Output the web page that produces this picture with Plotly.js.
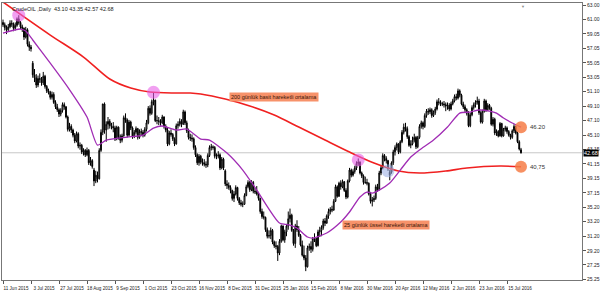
<!DOCTYPE html>
<html><head><meta charset="utf-8">
<script src="https://cdn.plot.ly/plotly-3.0.1.min.js"></script>
<style>html,body{margin:0;padding:0;background:#fff;}#chart{width:600px;height:292px;}</style>
</head><body><div id="chart"></div>
<script>
const symbolName = "CrudeOIL";
const periodName = "Daily";

const openP = [
60.6,60.3,59.9,59.6,60.0,60.5,60.4,59.8,60.2,61.1,
60.6,60.0,59.8,58.6,59.6,57.6,57.2,55.0,53.4,53.0,
52.0,52.9,52.8,52.3,53.2,51.8,51.2,51.0,50.3,50.7,
49.6,49.0,48.6,48.0,48.5,49.3,49.0,47.6,45.9,46.3,
45.8,45.1,44.3,45.3,43.6,43.7,42.8,43.0,42.4,43.0,
41.3,41.6,40.3,38.8,39.6,39.1,43.0,45.5,49.4,45.8,
46.6,47.0,46.4,46.3,46.1,44.6,46.2,44.9,44.4,45.0,
47.5,47.2,45.1,46.9,46.1,44.9,45.5,46.0,44.8,45.6,
45.5,45.1,45.9,46.8,48.8,48.1,49.7,49.9,47.1,47.1,
47.0,46.8,47.6,46.3,45.8,43.9,45.4,45.2,44.6,43.9,
46.4,46.6,47.0,46.6,48.3,46.8,45.7,44.8,44.7,44.6,
43.4,42.4,41.3,42.2,41.4,41.3,41.1,41.0,42.3,43.4,
43.5,43.4,42.2,42.2,42.4,40.6,41.8,40.2,38.4,38.2,
37.9,37.5,36.4,37.0,37.9,36.4,35.8,35.6,35.6,36.8,
38.0,38.6,37.6,38.6,37.4,37.3,37.0,36.4,34.6,33.9,
33.8,32.1,31.2,31.3,32.0,30.4,29.9,29.8,28.9,30.5,
32.6,30.7,31.8,32.6,33.6,34.1,32.0,30.2,32.6,32.1,
31.3,30.0,28.6,28.2,27.0,29.6,29.8,29.4,30.9,30.9,
29.9,31.8,32.0,32.4,33.3,33.0,34.0,34.6,34.9,34.8,
36.0,38.0,36.7,38.5,38.0,38.7,37.5,36.6,38.8,40.3,
39.6,40.1,40.6,41.2,41.4,39.9,39.5,38.6,38.6,38.5,
37.0,36.0,36.2,36.4,38.0,37.6,39.9,40.6,42.3,41.9,
41.6,39.6,40.0,41.3,42.8,43.4,43.9,42.8,44.2,45.5,
46.2,46.0,44.9,43.7,43.9,44.4,44.8,43.5,44.8,46.3,
46.8,46.3,47.8,48.4,48.3,48.6,47.8,48.2,48.7,49.7,
49.6,49.4,49.4,49.3,49.1,49.2,48.7,49.4,49.8,50.4,
50.2,51.2,50.6,49.4,49.0,48.6,48.1,46.4,47.9,48.9,
49.3,49.6,49.8,48.2,46.9,48.4,49.8,48.6,49.2,48.8,
46.6,47.3,45.4,45.6,45.0,46.7,45.0,45.9,46.1,45.6,
45.1,44.8,45.7,46.3,45.4,44.2,43.10];

const highP = [
61.0,60.6,60.2,60.4,60.9,60.9,60.6,60.6,61.3,61.6,
60.8,60.3,59.9,60.0,59.8,58.0,57.5,55.3,54.2,53.5,
53.3,53.6,53.1,53.8,53.4,52.0,51.5,51.2,51.1,51.0,
49.9,49.4,48.8,48.8,49.6,49.6,49.1,47.8,46.8,46.6,
46.0,45.4,45.6,45.5,44.1,43.9,43.3,43.2,43.4,43.2,
42.1,41.8,40.6,40.2,40.1,43.3,45.9,49.4,49.6,47.0,
47.6,47.3,46.8,46.9,46.4,46.4,46.3,45.2,45.3,47.8,
48.1,47.4,47.2,47.1,46.3,45.8,46.3,46.1,45.9,46.0,
45.8,46.2,47.2,49.1,49.2,50.0,51.0,50.0,47.8,47.6,
47.3,47.9,47.7,46.6,46.1,45.7,45.9,45.4,44.8,46.7,
47.0,47.4,47.3,48.6,48.5,47.1,46.0,45.3,45.2,44.8,
43.7,42.6,42.5,42.4,41.9,41.8,41.5,42.6,43.7,43.9,
43.7,43.6,42.6,42.9,42.6,42.1,42.0,40.4,38.9,38.6,
38.2,37.6,37.4,38.2,38.0,36.6,36.2,36.0,37.1,38.3,
38.9,38.8,38.9,38.8,37.9,38.1,37.3,36.5,35.0,34.6,
33.9,32.4,32.0,32.4,32.2,30.6,30.5,30.0,30.8,32.8,
32.7,32.1,32.9,34.6,35.0,34.3,32.2,32.9,33.4,32.6,
31.5,30.6,29.9,28.6,29.9,30.2,30.5,31.1,31.6,31.0,
32.1,32.5,32.7,33.6,33.7,34.2,35.0,35.2,35.4,36.3,
38.3,38.2,38.7,38.9,39.0,38.8,37.8,39.0,40.6,40.5,
40.4,40.9,41.5,41.9,41.5,40.1,39.7,39.4,39.1,38.6,
37.3,36.6,36.8,38.3,38.4,40.2,40.9,42.6,42.5,42.2,
41.7,40.3,41.5,43.1,43.7,44.1,44.0,44.4,45.8,46.7,
46.8,46.3,45.1,44.4,44.9,45.3,45.0,45.0,46.6,47.1,
47.0,48.1,48.7,48.8,48.9,48.8,48.5,49.0,50.0,50.2,
49.9,49.7,49.8,49.6,49.6,49.5,49.7,50.1,50.7,50.8,
51.5,51.4,50.8,49.7,49.3,48.8,48.4,48.2,49.2,49.6,
49.9,50.4,50.1,48.4,48.6,50.1,50.0,49.5,49.4,49.0,
47.6,47.5,45.9,45.8,46.9,46.8,46.1,46.4,46.3,45.8,
45.3,45.9,46.6,46.4,45.6,44.4,43.35];

const lowP = [
60.0,59.5,59.0,59.3,59.8,60.0,59.4,59.5,60.0,60.3,
59.7,59.3,58.2,58.4,57.3,56.7,56.6,53.0,52.4,51.6,
51.7,52.3,51.9,52.0,51.5,50.9,50.7,50.0,50.0,49.4,
48.7,48.3,47.6,47.7,48.2,48.6,47.4,45.6,45.6,45.4,
44.8,44.0,44.1,43.3,43.1,42.5,42.3,42.1,42.2,41.0,
40.9,40.5,38.1,38.5,38.6,39.0,42.8,45.1,45.3,44.2,
45.9,46.0,45.9,45.5,44.3,44.4,44.5,44.0,44.1,44.9,
46.8,44.8,44.9,45.8,44.6,44.7,45.2,44.5,44.6,45.1,
44.8,44.9,45.6,46.6,47.8,47.9,49.2,46.9,46.6,46.5,
46.4,46.6,46.0,45.5,43.6,43.7,44.9,44.3,43.6,43.8,
46.0,46.3,46.2,46.5,46.5,45.4,44.5,44.3,44.2,43.1,
42.1,41.0,40.9,41.1,40.9,40.8,40.6,40.7,42.1,43.0,
43.1,41.9,41.8,41.9,40.3,40.4,40.3,38.1,37.7,37.6,
37.1,36.1,35.9,36.8,36.1,35.5,35.3,35.2,35.5,36.7,
37.8,37.3,37.4,37.1,37.0,36.8,36.1,34.3,33.6,33.5,
31.8,30.9,30.9,30.8,30.1,29.6,29.4,27.8,28.6,30.3,
30.5,30.3,31.2,32.1,33.1,31.8,29.9,29.6,31.8,31.1,
29.8,28.4,27.9,26.4,26.9,29.2,28.9,29.1,30.4,29.7,
29.8,31.1,31.2,32.1,32.6,32.9,33.6,34.2,34.5,34.7,
35.9,36.5,36.6,37.6,37.8,37.3,36.3,36.4,38.6,39.3,
39.4,39.8,40.3,40.9,39.7,39.2,38.3,38.4,38.2,36.8,
35.7,35.3,35.9,36.2,37.3,37.5,39.6,40.4,41.5,41.2,
40.2,38.9,39.8,41.0,42.3,43.0,42.5,42.6,44.0,45.2,
45.6,44.6,43.5,43.3,43.7,44.1,43.2,43.3,44.6,46.0,
45.9,46.1,47.5,47.9,48.0,47.5,47.6,47.9,48.5,49.2,
49.1,49.1,48.9,48.4,48.6,48.4,48.5,49.2,49.6,49.9,
50.0,50.3,49.2,48.7,48.3,47.8,46.2,46.2,47.7,48.6,
48.9,49.3,47.9,46.7,46.7,48.2,48.3,48.4,48.6,46.4,
46.3,45.1,45.0,44.8,44.9,44.8,44.9,45.6,45.3,44.9,
44.5,44.6,45.4,45.2,44.0,43.0,42.57];

const closeP = [
60.3,59.9,59.6,60.0,60.5,60.4,59.8,60.2,61.1,60.6,
60.0,59.8,58.6,59.6,57.6,57.2,57.0,53.4,53.0,52.0,
52.9,52.8,52.3,53.2,51.8,51.2,51.0,50.3,50.7,49.6,
49.0,48.6,48.0,48.5,49.3,49.0,47.6,45.9,46.3,45.8,
45.1,44.3,45.3,43.6,43.7,42.8,43.0,42.4,43.0,41.3,
41.6,40.8,38.8,39.6,39.1,43.0,45.5,49.4,45.8,46.6,
47.0,46.4,46.3,46.1,44.6,46.2,44.9,44.4,45.0,47.5,
47.2,45.1,46.9,46.1,44.9,45.5,46.0,44.8,45.6,45.5,
45.1,45.9,46.8,48.8,48.1,49.7,49.9,47.1,47.1,47.0,
46.8,47.6,46.3,45.8,43.9,45.4,45.2,44.6,43.9,46.4,
46.6,47.0,46.6,48.3,46.8,45.7,44.8,44.7,44.6,43.4,
42.4,41.3,42.2,41.4,41.3,41.1,41.0,42.3,43.4,43.5,
43.4,42.2,42.2,42.4,40.6,41.8,40.6,38.4,38.2,37.9,
37.5,36.4,37.0,37.9,36.4,35.8,35.6,35.6,36.8,38.0,
38.6,37.6,38.6,37.4,37.3,37.0,36.4,34.6,33.9,33.8,
32.1,31.2,31.3,32.0,30.4,29.9,29.8,28.9,30.5,32.6,
30.7,31.8,32.6,33.6,34.1,32.0,30.2,32.6,32.1,31.3,
30.0,28.6,28.2,27.0,29.6,29.8,29.4,30.9,30.9,29.9,
31.8,32.0,32.4,33.3,33.0,34.0,34.6,34.9,34.8,36.0,
38.0,36.7,38.5,38.0,38.7,37.5,36.6,38.8,40.3,39.6,
40.1,40.6,41.2,41.4,39.9,39.5,38.6,38.6,38.5,37.0,
36.0,36.2,36.4,38.0,37.6,39.9,40.6,42.3,41.9,41.6,
40.5,40.0,41.3,42.8,43.4,43.9,42.8,44.2,45.5,46.2,
46.0,44.9,43.7,43.9,44.4,44.8,43.5,44.8,46.3,46.8,
46.3,47.8,48.4,48.3,48.6,47.8,48.2,48.7,49.7,49.6,
49.4,49.4,49.3,49.1,49.2,48.7,49.4,49.8,50.4,50.2,
51.2,50.6,49.4,49.0,48.6,48.1,46.4,47.9,48.9,49.3,
49.6,49.8,48.2,46.9,48.4,49.8,48.6,49.2,48.8,46.6,
47.3,45.4,45.6,45.0,46.7,45.0,45.9,46.1,45.6,45.1,
44.8,45.7,46.3,45.4,44.2,43.2,42.68];

// 200-day simple moving average (red), read at sample bars
const sma200Bar = [0,27,46,61,73,84,98,107,113,127,141,155,169,184,198,212,226,238,253,265,284,296];
const sma200Val = [63.41,58.87,55.85,52.82,51.58,51.03,50.90,50.90,50.76,50.07,49.11,47.87,46.22,44.43,42.78,41.27,40.17,39.89,40.17,40.58,40.85,40.75];

// 25-day exponential moving average (purple), read at sample bars
const ema25Bar = [0,10,13,17,27,37,48,54,59,71,80,86,91,99,105,113,118,128,137,145,158,164,168,174,177,185,193,198,204,208,211,215,221,227,233,238,246,254,261,267,272,278,282,286,291,296];
const ema25Val = [59.15,59.70,59.42,58.19,55.02,51.72,47.59,43.74,44.43,44.84,45.12,46.08,46.36,45.81,45.94,44.57,44.43,42.64,40.30,37.55,33.01,32.74,32.33,31.09,30.95,31.64,33.15,34.53,36.59,37.28,37.14,37.55,38.52,40.30,42.09,43.06,44.43,46.22,48.14,48.28,48.56,48.42,48.14,47.46,46.77,46.20];

// highlighted points (circles)
const peakBar = [9, 86, 203];
const peakVal = [61.6, 51.0, 41.7];
const crossBar = [220];
const crossVal = [40.2];
const endBar = [296, 296];
const endVal = [46.20, 40.75];
const endText = ["46.20", "40,75"];

const tickBars = [0,16,32,48,64,80,96,112,128,144,160,176,192,208,224,240,256,272,288];
const tickLabels = ["11 Jun 2015","3 Jul 2015","27 Jul 2015","18 Aug 2015","9 Sep 2015","1 Oct 2015","23 Oct 2015","16 Nov 2015","8 Dec 2015","31 Dec 2015","25 Jan 2016","15 Feb 2016","8 Mar 2016","30 Mar 2016","20 Apr 2016","12 May 2016","2 Jun 2016","23 Jun 2016","15 Jul 2016"];
const priceTicks = [63.00,61.00,59.05,57.05,55.05,53.05,51.10,49.10,47.10,45.10,43.15,41.15,39.15,37.15,35.20,33.20,31.20,29.20,27.25,25.25];
const priceLabels = ["63.00","61.00","59.05","57.05","55.05","53.05","51.10","49.10","47.10","45.10","43.15","41.15","39.15","37.15","35.20","33.20","31.20","29.20","27.25","25.25"];

const smaLabel = "200 günlük basit hareketli ortalama";
const emaLabel = "25 günlük üssel hareketli ortalama";

const bars = closeP.map((_, i) => i);
const last = closeP.length - 1;
const FONT = "Liberation Sans, Arial, sans-serif";

const traces = [
  {
    type: 'candlestick', x: bars, open: openP, high: highP, low: lowP, close: closeP,
    increasing: {line: {color: '#000', width: 1}, fillcolor: '#ffffff'},
    decreasing: {line: {color: '#000', width: 1}, fillcolor: '#000000'},
    whiskerwidth: 0, hoverinfo: 'skip', showlegend: false
  },
  {
    type: 'scatter', mode: 'lines', x: sma200Bar, y: sma200Val,
    line: {color: '#f02020', width: 1.6, shape: 'spline', smoothing: 0.8},
    hoverinfo: 'skip', showlegend: false
  },
  {
    type: 'scatter', mode: 'lines', x: ema25Bar, y: ema25Val,
    line: {color: '#a02cb4', width: 1.3, shape: 'spline', smoothing: 0.6},
    hoverinfo: 'skip', showlegend: false
  },
  {
    type: 'scatter', mode: 'markers', x: peakBar, y: peakVal,
    marker: {size: 13, color: 'rgba(232,96,232,0.6)', line: {width: 0}},
    hoverinfo: 'skip', showlegend: false
  },
  {
    type: 'scatter', mode: 'markers', x: crossBar, y: crossVal,
    marker: {size: 13, color: 'rgba(150,170,225,0.55)', line: {width: 0}},
    hoverinfo: 'skip', showlegend: false
  },
  {
    type: 'scatter', mode: 'markers', x: endBar, y: endVal,
    marker: {size: 12, color: 'rgba(246,125,70,0.85)', line: {width: 0}},
    hoverinfo: 'skip', showlegend: false
  }
];

const fmt = v => v.toFixed(2);
const annotations = [
  {xref: 'paper', yref: 'paper', x: 0, y: 1, xanchor: 'left', yanchor: 'top', xshift: 8, yshift: -1,
   text: symbolName + " ,"+ periodName + "  " + fmt(openP[last]) + " " + fmt(highP[last]) + " " + fmt(lowP[last]) + " " + fmt(closeP[last]),
   showarrow: false, font: {size: 5.5, color: '#222', family: FONT}},
  {x: 155, y: 50.35, xref: 'x', yref: 'y', text: smaLabel, showarrow: false,
   bgcolor: '#f7926a', borderpad: 1, font: {size: 5.5, color: '#3a1608', family: FONT}},
  {x: 219, y: 32.74, xref: 'x', yref: 'y', text: emaLabel, showarrow: false,
   bgcolor: '#f7926a', borderpad: 1, font: {size: 5.5, color: '#3a1608', family: FONT}},
  {xref: 'paper', yref: 'y', x: 1, y: closeP[last], xanchor: 'left', xshift: 1, text: fmt(closeP[last]),
   showarrow: false, bgcolor: '#000', borderpad: 0, font: {size: 5.5, color: '#fff', family: FONT}},
  {xref: 'x', yref: 'paper', x: 297, y: 1, yanchor: 'top', yshift: 1, text: '▼', showarrow: false,
   font: {size: 4, color: '#888', family: FONT}}
];
endBar.forEach((b, k) => annotations.push({
  x: b, y: endVal[k], xref: 'x', yref: 'y', xanchor: 'left', xshift: 7, text: endText[k],
  showarrow: false, font: {size: 6, color: '#333', family: FONT}
}));

const layout = {
  width: 600, height: 292,
  margin: {l: 2, r: 18, t: 3, b: 12, pad: 0},
  paper_bgcolor: '#fff', plot_bgcolor: '#fff',
  font: {family: FONT, size: 5, color: '#222'},
  showlegend: false,
  xaxis: {
    range: [-0.57, 330.86], rangeslider: {visible: false},
    tickmode: 'array', tickvals: tickBars, ticktext: tickLabels, tickangle: 0,
    ticks: 'outside', ticklen: 3, tickcolor: '#555', tickwidth: 1,
    ticklabelshift: 13, ticklabelstandoff: 0, automargin: false,
    tickfont: {size: 4.6, color: '#222', family: FONT},
    showgrid: false, zeroline: false, showline: true, mirror: true, linecolor: '#777', linewidth: 1,
    fixedrange: true
  },
  yaxis: {
    side: 'right', range: [25.18, 63.28], automargin: false,
    tickmode: 'array', tickvals: priceTicks, ticktext: priceLabels,
    ticks: 'outside', ticklen: 3, tickcolor: '#555', tickwidth: 1,
    tickfont: {size: 5, color: '#222', family: FONT},
    showgrid: false, zeroline: false, showline: true, mirror: true, linecolor: '#777', linewidth: 1,
    fixedrange: true
  },
  shapes: [
    {type: 'line', xref: 'paper', yref: 'y', x0: 0, x1: 1, y0: closeP[last], y1: closeP[last],
     line: {color: '#c8c8c8', width: 1}, layer: 'below'}
  ],
  annotations: annotations
};

Plotly.newPlot('chart', traces, layout, {staticPlot: true, displayModeBar: false});
</script></body></html>
